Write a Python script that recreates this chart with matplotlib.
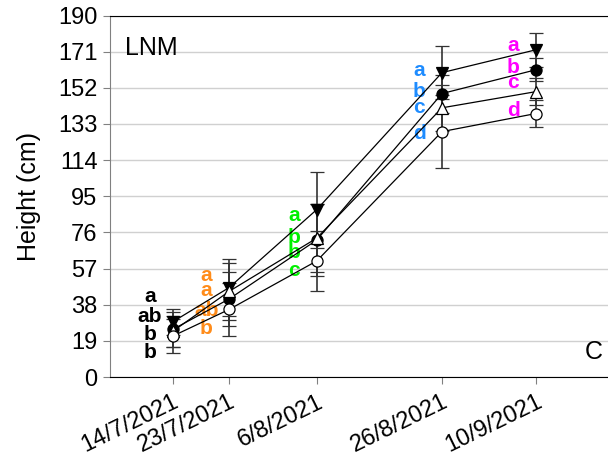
from datetime import datetime
import matplotlib
matplotlib.use("Agg")
import matplotlib.pyplot as plt
import matplotlib.dates as mdates

plt.rcParams['font.family'] = ['Liberation Sans', 'DejaVu Sans']

# Sampling dates
dates = [datetime(2021, 7, 14), datetime(2021, 7, 23), datetime(2021, 8, 6),
         datetime(2021, 8, 26), datetime(2021, 9, 10)]
date_labels = ['14/7/2021', '23/7/2021', '6/8/2021', '26/8/2021', '10/9/2021']

# Plant height (cm) and error bars for the four treatments
height_a = [29, 47, 88, 160, 172]
err_a = [7, 15, 20, 14, 9]
height_b = [25, 41, 72, 149, 161.5]
err_b = [9, 14, 19, 10, 6]
height_c = [24, 45, 73, 141.5, 150]
err_c = [8, 15, 18, 12, 7]
height_d = [21.5, 35.5, 61, 129, 138.5]
err_d = [9, 14, 16, 19, 7]

# Significance letters per date (top to bottom)
letters = [['a', 'ab', 'b', 'b'],
           ['a', 'a', 'ab', 'b'],
           ['a', 'b', 'b', 'c'],
           ['a', 'b', 'c', 'd'],
           ['a', 'b', 'c', 'd']]
letter_colors = ['black', '#FF8C1A', '#00F000', '#1E8CFF', '#FF00FF']
letter_y = [[42.5, 32, 22.6, 13.1],
            [53.5, 45.7, 35.2, 25.7],
            [85, 73.5, 65.6, 56.2],
            [161, 150, 141.7, 128],
            [174, 162.7, 155, 140]]

yticks = [0, 19, 38, 57, 76, 95, 114, 133, 152, 171, 190]

fig = plt.figure(figsize=(6.08, 4.57), dpi=100)
ax = fig.add_axes([0.181, 0.175, 0.819, 0.791])

series = [
    (height_a, err_a, dict(marker='v', mfc='black')),
    (height_b, err_b, dict(marker='o', mfc='black')),
    (height_c, err_c, dict(marker='^', mfc='white')),
    (height_d, err_d, dict(marker='o', mfc='white')),
]
for vals, errs, style in series:
    ax.errorbar(dates, vals, yerr=errs, color='black', ecolor='#333333',
                elinewidth=1.2, capsize=5, capthick=1.0, lw=0.9,
                mec='black', mew=0.9, ms=8, zorder=3, **style)

for i, d in enumerate(dates):
    for lab, ly in zip(letters[i], letter_y[i]):
        ax.annotate(lab, xy=(d, ly), xytext=(-16.5, 0), textcoords='offset points',
                    ha='center', va='center', fontsize=15, fontweight='bold',
                    color=letter_colors[i])

left = mdates.date2num(datetime(2021, 7, 4))
ax.set_xlim(left, left + 79.5)
ax.set_ylim(0, 190)
ax.set_yticks(yticks)
ax.set_yticklabels([str(v) for v in yticks], fontsize=17)
ax.set_xticks(dates)
ax.set_xticklabels(date_labels, fontsize=17, rotation=26, ha='right',
                   rotation_mode='anchor')
ax.tick_params(axis='x', length=5, color='#808080', pad=5)
ax.tick_params(axis='y', length=5, color='#808080', pad=4)

ax.yaxis.grid(True, color='#d0d0d0', lw=1)
ax.set_axisbelow(True)
ax.spines['right'].set_visible(False)
ax.spines['top'].set_color('black')
ax.spines['left'].set_color('#808080')
ax.spines['bottom'].set_color('black')
ax.set_ylabel('Height (cm)', fontsize=18, labelpad=12)

ax.text(0.03, 0.91, 'LNM', transform=ax.transAxes, fontsize=18, va='center')
ax.text(0.99, 0.07, 'C', transform=ax.transAxes, fontsize=18, va='center', ha='right')

fig.savefig('out.png', dpi=100)
